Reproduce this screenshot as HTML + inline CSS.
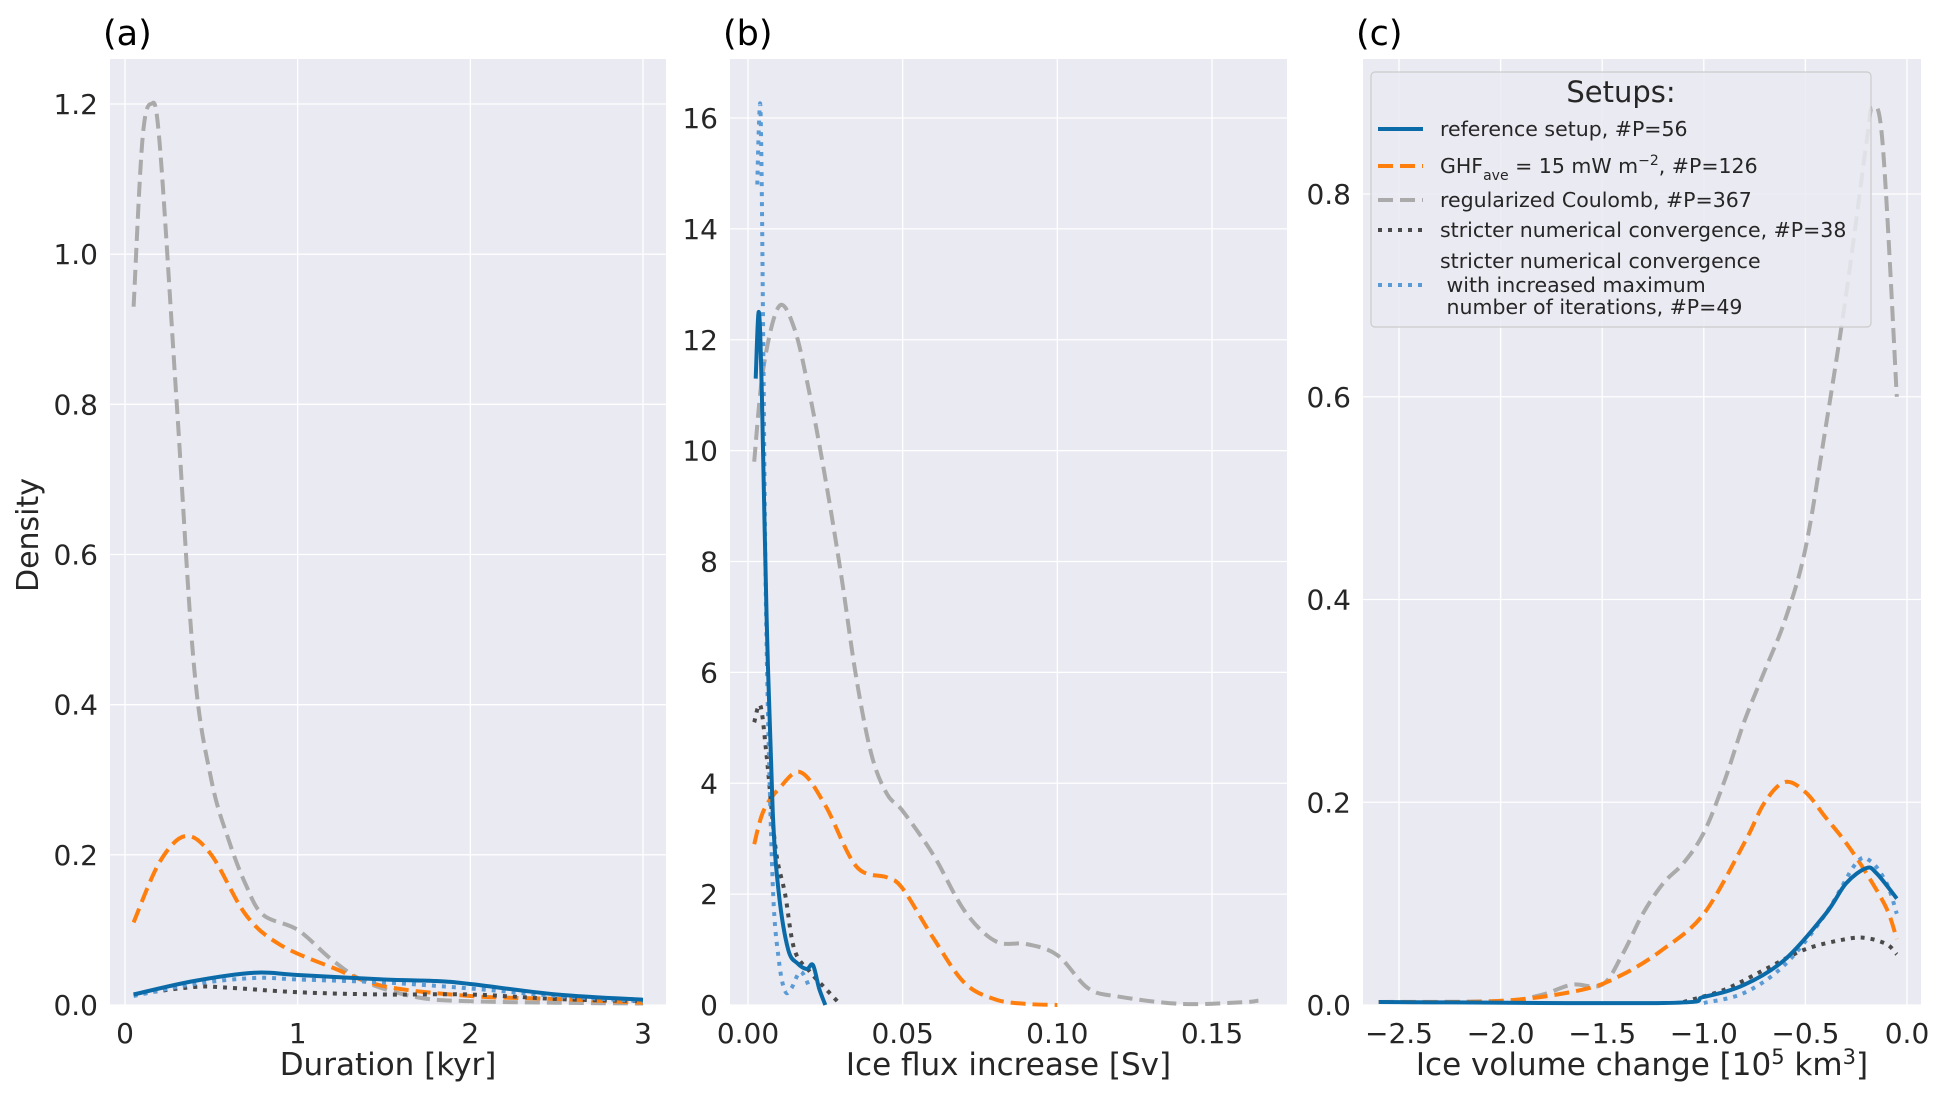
<!DOCTYPE html>
<html><head><meta charset="utf-8"><style>
body{margin:0;background:#fff;width:1941px;height:1106px;overflow:hidden}
svg{display:block;font-family:"DejaVu Sans","Liberation Sans",sans-serif}
</style></head><body>
<svg id="fig" width="1941" height="1106" viewBox="0 0 1941 1106" xmlns="http://www.w3.org/2000/svg"></svg>
<script>
// ---- data: panel a (Duration [kyr]) ----
const aGrayX=[0.05,0.1,0.15,0.2,0.3,0.4,0.5,0.6,0.7,0.8,1.0,1.2,1.4,1.7,2.0,2.5,3.0];
const aGrayY=[0.93,1.15,1.2,1.15,0.8,0.45,0.3,0.22,0.16,0.12,0.1,0.06,0.03,0.01,0.005,0.003,0.002];
const aOrX=[0.05,0.2,0.35,0.5,0.7,0.9,1.2,1.5,2.0,2.5,3.0];
const aOrY=[0.11,0.19,0.225,0.2,0.12,0.08,0.05,0.025,0.012,0.008,0.003];
const aBlX=[0.05,0.4,0.75,1.0,1.5,1.8,2.0,2.5,3.0];
const aBlY=[0.014,0.032,0.043,0.04,0.034,0.032,0.028,0.014,0.007];
const aLbX=[0.05,0.4,0.75,1.0,1.5,2.0,2.5,3.0];
const aLbY=[0.012,0.028,0.036,0.034,0.03,0.022,0.012,0.005];
const aDkX=[0.05,0.4,0.6,1.0,1.5,2.0,2.5,3.0];
const aDkY=[0.014,0.024,0.023,0.017,0.014,0.014,0.008,0.005];
const aXTicks=[0,1,2,3];
const aYTicks=[0,0.2,0.4,0.6,0.8,1.0,1.2];
// ---- data: panel b (Ice flux increase [Sv]) ----
const bGrayX=[0.002,0.005,0.01,0.015,0.02,0.025,0.03,0.035,0.04,0.045,0.05,0.06,0.07,0.08,0.09,0.1,0.11,0.12,0.14,0.16,0.165];
const bGrayY=[9.8,11.5,12.6,12.2,11.0,9.5,7.8,5.9,4.5,3.8,3.5,2.7,1.7,1.15,1.1,0.9,0.3,0.15,0.02,0.05,0.08];
const bOrX=[0.002,0.005,0.01,0.017,0.025,0.035,0.045,0.05,0.06,0.07,0.08,0.09,0.1];
const bOrY=[2.9,3.5,3.9,4.2,3.6,2.5,2.3,2.1,1.2,0.4,0.1,0.02,0];
const bBlX=[0.0025,0.0035,0.0045,0.006,0.008,0.01,0.013,0.016,0.019,0.021,0.023,0.025];
const bBlY=[11.3,12.5,11.0,7.0,3.5,2.0,1.0,0.75,0.65,0.72,0.3,0];
const bDkX=[0.002,0.004,0.006,0.009,0.012,0.015,0.02,0.025,0.03];
const bDkY=[5.1,5.4,4.5,2.8,2.0,1.0,0.6,0.3,0];
const bLbX=[0.003,0.0035,0.004,0.0045,0.005,0.006,0.008,0.01,0.012,0.014,0.017,0.02];
const bLbY=[14.8,15.8,16.2,14.5,11.5,6.5,2.2,0.8,0.25,0.3,0.6,0.3];
const bXTicks=[0,0.05,0.1,0.15];
const bXLabels=["0.00","0.05","0.10","0.15"];
const bYTicks=[0,2,4,6,8,10,12,14,16];
// ---- data: panel c (Ice volume change) ----
const cGrayX=[-2.6,-2.0,-1.8,-1.65,-1.5,-1.4,-1.3,-1.2,-1.1,-1.0,-0.9,-0.8,-0.7,-0.6,-0.5,-0.4,-0.3,-0.2,-0.17,-0.12,-0.05];
const cGrayY=[0.003,0.004,0.01,0.02,0.02,0.05,0.09,0.12,0.14,0.17,0.22,0.28,0.33,0.38,0.45,0.57,0.7,0.85,0.885,0.85,0.6];
const cOrX=[-2.6,-2.0,-1.6,-1.4,-1.2,-1.0,-0.8,-0.7,-0.6,-0.5,-0.4,-0.3,-0.2,-0.1,-0.05];
const cOrY=[0.003,0.004,0.015,0.03,0.055,0.09,0.16,0.2,0.22,0.21,0.185,0.16,0.13,0.095,0.065];
const cBlX=[-2.6,-1.2,-1.0,-0.8,-0.6,-0.4,-0.3,-0.2,-0.15,-0.05];
const cBlY=[0.003,0.002,0.008,0.02,0.045,0.09,0.12,0.135,0.13,0.105];
const cLbX=[-1.0,-0.8,-0.6,-0.4,-0.25,-0.18,-0.1,-0.05];
const cLbY=[0.002,0.012,0.04,0.09,0.14,0.142,0.12,0.09];
const cDkX=[-1.1,-0.9,-0.7,-0.5,-0.3,-0.2,-0.1,-0.05];
const cDkY=[0.003,0.015,0.035,0.055,0.065,0.066,0.06,0.05];
const cXTicks=[-2.5,-2.0,-1.5,-1.0,-0.5,0.0];
const cXLabels=["\u22122.5","\u22122.0","\u22121.5","\u22121.0","\u22120.5","0.0"];
const cYTicks=[0,0.2,0.4,0.6,0.8];

const NS="http://www.w3.org/2000/svg";
const svg=document.getElementById('fig');
function mk(tag,attrs,parent,text){const e=document.createElementNS(NS,tag);for(const k in attrs)e.setAttribute(k,attrs[k]);if(text!==undefined)e.textContent=text;(parent||svg).appendChild(e);return e;}
const COL={blue:'#0b6ba8',orange:'#ff7f0e',gray:'#aaaaaa',dark:'#4a4a4a',light:'#5b9bd5'};
const STY={blue:'',orange:'15,7',gray:'15,7',dark:'4,6',light:'4,6'};
function smooth(pts){let d='M'+pts[0][0].toFixed(1)+','+pts[0][1].toFixed(1);
 for(let i=0;i<pts.length-1;i++){const p0=pts[i-1]||pts[i],p1=pts[i],p2=pts[i+1],p3=pts[i+2]||p2;
  const c1=[p1[0]+(p2[0]-p0[0])/6,p1[1]+(p2[1]-p0[1])/6],c2=[p2[0]-(p3[0]-p1[0])/6,p2[1]-(p3[1]-p1[1])/6];
  d+=' C'+c1[0].toFixed(1)+','+c1[1].toFixed(1)+' '+c2[0].toFixed(1)+','+c2[1].toFixed(1)+' '+p2[0].toFixed(1)+','+p2[1].toFixed(1);}
 return d;}
function panel(cfg){
 const g=mk('g',{});
 
 
 const sx=v=>cfg.x0px+(v-cfg.x0)*(cfg.x1px-cfg.x0px)/(cfg.x1-cfg.x0);
 const sy=v=>cfg.y0px+(v-cfg.y0)*(cfg.y1px-cfg.y0px)/(cfg.y1-cfg.y0);
 const bg=mk('rect',{x:cfg.L,y:59,width:cfg.R-cfg.L,height:946,fill:'#eaeaf2'},g);
 
 cfg.xt.forEach((t,i)=>{const x=sx(t);
  const gl=mk('line',{x1:x,x2:x,y1:59,y2:1005,stroke:'#fff','stroke-width':1.3},g);
  
  const tl=mk('text',{x:x,y:1043,'font-size':28,'text-anchor':'middle',fill:'#262626'},g,cfg.xl?cfg.xl[i]:String(t));
  });
 cfg.yt.forEach(t=>{const y=sy(t);
  const gl=mk('line',{x1:cfg.L,x2:cfg.R,y1:y,y2:y,stroke:'#fff','stroke-width':1.3},g);
  
  const tl=mk('text',{x:cfg.L-12,y:y+10,'font-size':28,'text-anchor':'end',fill:'#262626'},g,cfg.yfmt(t));
  });
 cfg.series.forEach(s=>{const pts=s.x.map((v,i)=>[sx(v),sy(s.y[i])]);
  const p=mk('path',{d:smooth(pts),fill:'none',stroke:COL[s.c],'stroke-width':4,'stroke-dasharray':STY[s.c]},g);
  });
 const xl=mk('text',{x:(cfg.L+cfg.R)/2,y:1075,'font-size':31,'text-anchor':'middle',fill:'#262626'},g);
 
 xl.innerHTML=cfg.xlabel;
 const pl=mk('text',{x:cfg.L-7,y:45,'font-size':35,fill:'#000'},g,cfg.tag);
 
}
panel({name:'panel-a-duration',L:110,R:666,x0:0,x1:3,x0px:125,x1px:643,y0:0,y1:1.2,y0px:1005,y1px:104,
 xt:aXTicks,yt:aYTicks,yfmt:t=>t.toFixed(1),xlabel:'Duration [kyr]',tag:'(a)',
 series:[{x:aGrayX,y:aGrayY,c:'gray',n:'line-regularized-coulomb'},{x:aOrX,y:aOrY,c:'orange',n:'line-ghf'},
  {x:aDkX,y:aDkY,c:'dark',n:'line-stricter'},{x:aLbX,y:aLbY,c:'light',n:'line-stricter-iter'},{x:aBlX,y:aBlY,c:'blue',n:'line-reference'}]});
panel({name:'panel-b-flux',L:730,R:1287,x0:0,x1:0.15,x0px:748,x1px:1212,y0:0,y1:16,y0px:1005,y1px:118,
 xt:bXTicks,xl:bXLabels,yt:bYTicks,yfmt:t=>String(t),xlabel:'Ice flux increase [Sv]',tag:'(b)',
 series:[{x:bGrayX,y:bGrayY,c:'gray',n:'line-regularized-coulomb'},{x:bOrX,y:bOrY,c:'orange',n:'line-ghf'},
  {x:bDkX,y:bDkY,c:'dark',n:'line-stricter'},{x:bLbX,y:bLbY,c:'light',n:'line-stricter-iter'},{x:bBlX,y:bBlY,c:'blue',n:'line-reference'}]});
panel({name:'panel-c-volume',L:1363,R:1921,x0:-2.5,x1:0,x0px:1399,x1px:1907,y0:0,y1:0.8,y0px:1005,y1px:194,
 xt:cXTicks,xl:cXLabels,yt:cYTicks,yfmt:t=>t.toFixed(1),xlabel:'Ice volume change [10<tspan dy="-11" font-size="21">5</tspan><tspan dy="11"> km</tspan><tspan dy="-11" font-size="21">3</tspan><tspan dy="11">]</tspan>',tag:'(c)',
 series:[{x:cGrayX,y:cGrayY,c:'gray',n:'line-regularized-coulomb'},{x:cOrX,y:cOrY,c:'orange',n:'line-ghf'},
  {x:cDkX,y:cDkY,c:'dark',n:'line-stricter'},{x:cLbX,y:cLbY,c:'light',n:'line-stricter-iter'},{x:cBlX,y:cBlY,c:'blue',n:'line-reference'}]});
// y axis title
const yt=mk('text',{x:0,y:0,'font-size':30,'text-anchor':'middle',fill:'#262626',transform:'translate(38,535) rotate(-90)'},svg,'Density');


// legend
const lg=mk('g',{});


mk('rect',{x:1371,y:72,width:500,height:255,rx:4,fill:'#eaeaf2','fill-opacity':0.85,stroke:'#cccccc','stroke-width':1.2},lg);
const lt=mk('text',{x:1621,y:102,'font-size':29,'text-anchor':'middle',fill:'#262626'},lg,'Setups:');


const entries=[{c:'blue',y:129,lines:['reference setup, #P=56']},
 {c:'orange',y:166,html:'GHF<tspan dy="7" font-size="14">ave</tspan><tspan dy="-7"> = 15 mW m</tspan><tspan dy="-8" font-size="14">\u22122</tspan><tspan dy="8">, #P=126</tspan>'},
 {c:'gray',y:200,lines:['regularized Coulomb, #P=367']},
 {c:'dark',y:230,lines:['stricter numerical convergence, #P=38']},
 {c:'light',y:285,lines:['stricter numerical convergence',' with increased maximum',' number of iterations, #P=49'],ys:[261,285,307]}];
entries.forEach(e=>{
 const h=mk('line',{x1:1378,x2:1423,y1:e.y,y2:e.y,stroke:COL[e.c],'stroke-width':4,'stroke-dasharray':STY[e.c]},lg);
 
 
 if(e.html){const t=mk('text',{x:1440,y:e.y+7,'font-size':20.5,fill:'#262626'},lg);t.innerHTML=e.html;
  
  }
 else e.lines.forEach((s,i)=>{const yy=e.ys?e.ys[i]:e.y;
  const t=mk('text',{x:1440,y:yy+7,'font-size':20.5,fill:'#262626','xml:space':'preserve'},lg,s.replace(/^ /,'\u00a0'));
  
  });
});
</script>
</body></html>
